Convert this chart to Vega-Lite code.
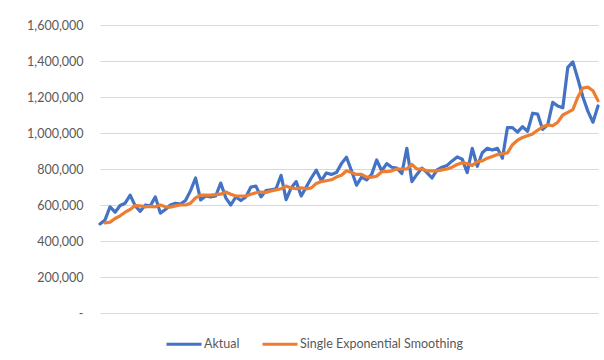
{
  "$schema": "https://vega.github.io/schema/vega-lite/v6.json",
  "width": 498,
  "height": 288,
  "autosize": {"type": "none"},
  "padding": {"left": 100, "top": 25, "right": 6, "bottom": 47},
  "background": "white",
  "config": {
    "view": {"stroke": null},
    "font": "Lato"
  },
  "data": {
    "values": [
      {"t":1,"Aktual":495000},
      {"t":2,"Aktual":517000,"SES":500000},
      {"t":3,"Aktual":590000,"SES":505000},
      {"t":4,"Aktual":560000,"SES":525000},
      {"t":5,"Aktual":597000,"SES":540000},
      {"t":6,"Aktual":610000,"SES":560000},
      {"t":7,"Aktual":655000,"SES":575000},
      {"t":8,"Aktual":595000,"SES":597000},
      {"t":9,"Aktual":565000,"SES":595000},
      {"t":10,"Aktual":600000,"SES":590000},
      {"t":11,"Aktual":595000,"SES":592000},
      {"t":12,"Aktual":645000,"SES":590000},
      {"t":13,"Aktual":555000,"SES":600000},
      {"t":14,"Aktual":575000,"SES":590000},
      {"t":15,"Aktual":600000,"SES":588000},
      {"t":16,"Aktual":610000,"SES":595000},
      {"t":17,"Aktual":605000,"SES":600000},
      {"t":18,"Aktual":625000,"SES":600000},
      {"t":19,"Aktual":680000,"SES":610000},
      {"t":20,"Aktual":750000,"SES":640000},
      {"t":21,"Aktual":628000,"SES":655000},
      {"t":22,"Aktual":650000,"SES":655000},
      {"t":23,"Aktual":645000,"SES":655000},
      {"t":24,"Aktual":650000,"SES":658000},
      {"t":25,"Aktual":722000,"SES":660000},
      {"t":26,"Aktual":640000,"SES":672000},
      {"t":27,"Aktual":600000,"SES":660000},
      {"t":28,"Aktual":645000,"SES":650000},
      {"t":29,"Aktual":625000,"SES":650000},
      {"t":30,"Aktual":645000,"SES":650000},
      {"t":31,"Aktual":700000,"SES":660000},
      {"t":32,"Aktual":705000,"SES":668000},
      {"t":33,"Aktual":645000,"SES":672000},
      {"t":34,"Aktual":680000,"SES":670000},
      {"t":35,"Aktual":685000,"SES":678000},
      {"t":36,"Aktual":690000,"SES":684000},
      {"t":37,"Aktual":765000,"SES":690000},
      {"t":38,"Aktual":630000,"SES":705000},
      {"t":39,"Aktual":695000,"SES":695000},
      {"t":40,"Aktual":730000,"SES":690000},
      {"t":41,"Aktual":650000,"SES":695000},
      {"t":42,"Aktual":700000,"SES":690000},
      {"t":43,"Aktual":750000,"SES":695000},
      {"t":44,"Aktual":794000,"SES":720000},
      {"t":45,"Aktual":735000,"SES":730000},
      {"t":46,"Aktual":778000,"SES":735000},
      {"t":47,"Aktual":770000,"SES":740000},
      {"t":48,"Aktual":780000,"SES":755000},
      {"t":49,"Aktual":830000,"SES":765000},
      {"t":50,"Aktual":865000,"SES":790000},
      {"t":51,"Aktual":790000,"SES":780000},
      {"t":52,"Aktual":710000,"SES":770000},
      {"t":53,"Aktual":755000,"SES":770000},
      {"t":54,"Aktual":740000,"SES":755000},
      {"t":55,"Aktual":770000,"SES":755000},
      {"t":56,"Aktual":850000,"SES":760000},
      {"t":57,"Aktual":790000,"SES":785000},
      {"t":58,"Aktual":830000,"SES":785000},
      {"t":59,"Aktual":810000,"SES":790000},
      {"t":60,"Aktual":805000,"SES":800000},
      {"t":61,"Aktual":775000,"SES":800000},
      {"t":62,"Aktual":915000,"SES":800000},
      {"t":63,"Aktual":730000,"SES":825000},
      {"t":64,"Aktual":770000,"SES":800000},
      {"t":65,"Aktual":805000,"SES":800000},
      {"t":66,"Aktual":780000,"SES":790000},
      {"t":67,"Aktual":750000,"SES":790000},
      {"t":68,"Aktual":795000,"SES":790000},
      {"t":69,"Aktual":810000,"SES":795000},
      {"t":70,"Aktual":820000,"SES":800000},
      {"t":71,"Aktual":845000,"SES":810000},
      {"t":72,"Aktual":867000,"SES":825000},
      {"t":73,"Aktual":855000,"SES":835000},
      {"t":74,"Aktual":780000,"SES":830000},
      {"t":75,"Aktual":915000,"SES":820000},
      {"t":76,"Aktual":815000,"SES":840000},
      {"t":77,"Aktual":890000,"SES":845000},
      {"t":78,"Aktual":915000,"SES":860000},
      {"t":79,"Aktual":905000,"SES":870000},
      {"t":80,"Aktual":915000,"SES":880000},
      {"t":81,"Aktual":860000,"SES":885000},
      {"t":82,"Aktual":1030000,"SES":890000},
      {"t":83,"Aktual":1030000,"SES":935000},
      {"t":84,"Aktual":1005000,"SES":960000},
      {"t":85,"Aktual":1035000,"SES":975000},
      {"t":86,"Aktual":1010000,"SES":985000},
      {"t":87,"Aktual":1110000,"SES":995000},
      {"t":88,"Aktual":1105000,"SES":1015000},
      {"t":89,"Aktual":1020000,"SES":1035000},
      {"t":90,"Aktual":1045000,"SES":1045000},
      {"t":91,"Aktual":1170000,"SES":1040000},
      {"t":92,"Aktual":1150000,"SES":1060000},
      {"t":93,"Aktual":1140000,"SES":1100000},
      {"t":94,"Aktual":1365000,"SES":1115000},
      {"t":95,"Aktual":1395000,"SES":1130000},
      {"t":96,"Aktual":1300000,"SES":1200000},
      {"t":97,"Aktual":1200000,"SES":1250000},
      {"t":98,"Aktual":1120000,"SES":1255000},
      {"t":99,"Aktual":1060000,"SES":1235000},
      {"t":100,"Aktual":1150000,"SES":1180000}
    ]
  },
  "transform": [
    {"fold": ["Aktual", "SES"], "as": ["series", "value"]}
  ],
  "mark": {"type": "line", "strokeWidth": 3.2, "strokeJoin": "round", "strokeCap": "round"},
  "encoding": {
    "x": {
      "field": "t",
      "type": "quantitative",
      "scale": {"domain": [1, 100], "nice": false, "zero": false},
      "axis": null
    },
    "y": {
      "field": "value",
      "type": "quantitative",
      "scale": {"domain": [0, 1600000], "nice": false},
      "axis": {
        "title": null,
        "values": [0, 200000, 400000, 600000, 800000, 1000000, 1200000, 1400000, 1600000],
        "labelExpr": "datum.value == 0 ? '-' : format(datum.value, ',')",
        "domain": false,
        "ticks": false,
        "grid": true,
        "gridColor": "#d9d9d9",
        "gridWidth": 1,
        "labelColor": "#595959",
        "labelFontSize": 12.5,
        "labelFont": "Lato",
        "labelPadding": 17
      }
    },
    "color": {
      "field": "series",
      "type": "nominal",
      "scale": {"domain": ["Aktual", "SES"], "range": ["#4472C4", "#ED7D31"]},
      "legend": {
        "title": null,
        "orient": "none",
        "legendX": 65,
        "legendY": 300,
        "direction": "horizontal",
        "symbolType": "stroke",
        "symbolSize": 1225,
        "symbolStrokeWidth": 3,
        "labelExpr": "datum.label == 'SES' ? 'Single Exponential Smoothing' : datum.label",
        "labelColor": "#595959",
        "labelFontSize": 12.5,
        "labelFont": "Lato",
        "labelLimit": 400,
        "labelOffset": 1,
        "columnPadding": 16
      }
    }
  }
}
